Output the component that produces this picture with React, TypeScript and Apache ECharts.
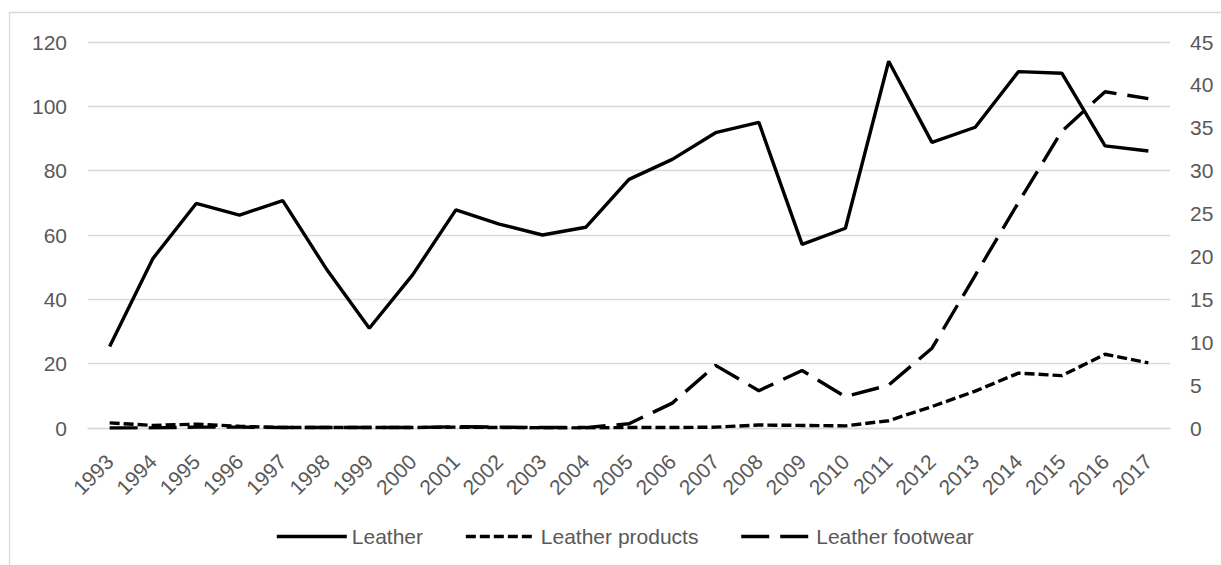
import React, { useEffect, useRef } from "react";
import * as echarts from "echarts";

const years = ["1993","1994","1995","1996","1997","1998","1999","2000","2001","2002","2003","2004","2005","2006","2007","2008","2009","2010","2011","2012","2013","2014","2015","2016","2017"];
const leather = [25.3, 52.7, 69.8, 66.2, 70.7, 49.6, 31, 47.6, 67.8, 63.4, 60, 62.4, 77.3, 83.5, 91.8, 95, 57.1, 62.1, 114, 88.8, 93.5, 110.8, 110.3, 87.7, 86.1];
const leatherProducts = [0.6, 0.3, 0.45, 0.2, 0.05, 0.05, 0.05, 0.05, 0.1, 0.05, 0.02, 0.02, 0.05, 0.05, 0.1, 0.35, 0.3, 0.25, 0.85, 2.5, 4.3, 6.4, 6.1, 8.6, 7.6];
const leatherFootwear = [0, 0.02, 0.1, 0.1, 0.05, 0.05, 0.05, 0.05, 0.15, 0.1, 0.05, 0.05, 0.5, 2.9, 7.3, 4.35, 6.7, 3.65, 5.0, 9.3, 17.8, 26.3, 34.6, 39.2, 38.4];
const seriesNames = ["Leather", "Leather products", "Leather footwear"];

const FONT = "'Liberation Sans', Arial, sans-serif";
const LABEL = "#595959";
const GRID = "#d9d9d9";

export default function App() {
  const ref = useRef<HTMLDivElement>(null);
  useEffect(() => {
    if (!ref.current) return;
    const chart = echarts.init(ref.current, undefined, { renderer: "svg" });
    chart.setOption({
      animation: false,
      backgroundColor: "#ffffff",
      textStyle: { fontFamily: FONT },
      graphic: [
        {
          type: "rect",
          shape: { x: 9.5, y: 12.5, width: 1300, height: 700 },
          style: { fill: "none", stroke: GRID, lineWidth: 1.3 },
          silent: true,
        },
      ],
      grid: { left: 88, right: 51, top: 42, bottom: 137, containLabel: false },
      legend: {
        data: seriesNames,
        left: 270,
        top: 521,
        itemWidth: 70,
        itemHeight: 14,
        itemGap: 41,
        itemStyle: { opacity: 0 },
        lineStyle: { width: 3.6 },
        textStyle: { color: LABEL, fontSize: 21, fontFamily: FONT },
      },
      xAxis: {
        type: "category",
        data: years,
        boundaryGap: true,
        axisLine: { show: true, lineStyle: { color: GRID, width: 1.3 } },
        axisTick: { show: false },
        axisLabel: {
          interval: 0,
          rotate: 45,
          margin: 30,
          color: LABEL,
          fontSize: 21,
          fontFamily: FONT,
        },
      },
      yAxis: [
        {
          type: "value",
          min: 0,
          max: 120,
          interval: 20,
          axisLine: { show: false },
          axisTick: { show: false },
          splitLine: { show: true, lineStyle: { color: GRID, width: 1.3 } },
          axisLabel: { color: LABEL, fontSize: 21, fontFamily: FONT, margin: 21 },
        },
        {
          type: "value",
          min: 0,
          max: 45,
          interval: 5,
          axisLine: { show: false },
          axisTick: { show: false },
          splitLine: { show: false },
          axisLabel: { color: LABEL, fontSize: 21, fontFamily: FONT, margin: 20 },
        },
      ],
      series: [
        {
          name: seriesNames[0],
          type: "line",
          data: leather,
          yAxisIndex: 0,
          symbol: "none",
          color: "#000000",
          lineStyle: { color: "#000000", width: 3.4, type: "solid" },
        },
        {
          name: seriesNames[1],
          type: "line",
          data: leatherProducts,
          yAxisIndex: 1,
          symbol: "none",
          color: "#000000",
          lineStyle: { color: "#000000", width: 3.4, type: [10, 4] },
        },
        {
          name: seriesNames[2],
          type: "line",
          data: leatherFootwear,
          yAxisIndex: 1,
          symbol: "none",
          color: "#000000",
          lineStyle: { color: "#000000", width: 3.4, type: [28, 11] },
        },
      ],
    });
    return () => chart.dispose();
  }, []);
  return (
    <div
      ref={ref}
      style={{ position: "fixed", left: 0, top: 0, width: 1221, height: 565 }}
    />
  );
}
